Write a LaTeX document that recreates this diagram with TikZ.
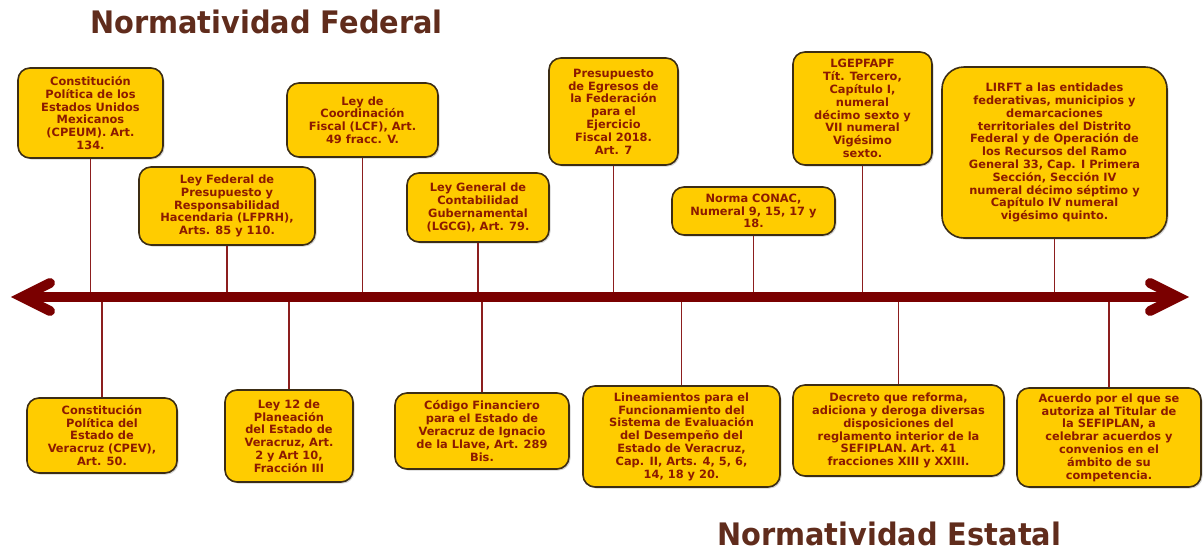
\documentclass[tikz,border=0pt]{standalone}
\usepackage{fontspec}
\newfontfamily\boxfont{DejaVu Sans}
\newfontfamily\titlefont[FakeStretch=0.93]{DejaVu Sans}
\usetikzlibrary{shadows}
\definecolor{gold}{RGB}{255,204,0}
\definecolor{boxtext}{RGB}{140,26,0}
\definecolor{axiscol}{RGB}{122,0,0}
\definecolor{titlecol}{RGB}{96,44,28}
\definecolor{boxedge}{RGB}{60,45,20}
\definecolor{conncol}{RGB}{140,30,30}
\begin{document}
\begin{tikzpicture}[x=1pt,y=-1pt,
  law/.style={draw=boxedge, line width=1.6pt, fill=gold, rounded corners=12pt, align=center,
    font=\boxfont\bfseries\fontsize{11.4}{12.8}\selectfont, text=boxtext, inner sep=0pt,
    drop shadow={shadow xshift=1.5pt, shadow yshift=-1.5pt, opacity=0.35}},
  conn/.style={draw=conncol, line width=1.4pt},
  axisline/.style={draw=axiscol, line width=10pt},
  title/.style={font=\titlefont\bfseries\fontsize{31}{36}\selectfont, text=titlecol, anchor=base west, inner sep=0pt}]
\path[use as bounding box] (0,0) rectangle (1204,552);

\node[title] (tfed) at (90,33) {Normatividad Federal};
\node[title] (test) at (717,545) {Normatividad Estatal};

% top boxes
\node[law, minimum width=145pt, minimum height=90pt] (cpeum) at (90.5,113)
  {Constitución\\Política de los\\Estados Unidos\\Mexicanos\\(CPEUM). Art.\\134.};
\node[law, minimum width=151pt, minimum height=74pt] (lcf) at (362.5,120)
  {Ley de\\Coordinación\\Fiscal (LCF), Art.\\49 fracc. V.};
\node[law, minimum width=176pt, minimum height=78pt] (lfprh) at (227,206)
  {Ley Federal de\\Presupuesto y\\Responsabilidad\\Hacendaria (LFPRH),\\Arts. 85 y 110.};
\node[law, minimum width=142pt, minimum height=69pt] (lgcg) at (478,207.5)
  {Ley General de\\Contabilidad\\Gubernamental\\(LGCG), Art. 79.};
\node[law, minimum width=129pt, minimum height=107pt] (pef) at (613.5,111.5)
  {Presupuesto\\de Egresos de\\la Federación\\para el\\Ejercicio\\Fiscal 2018.\\Art. 7};
\node[law, minimum width=163pt, minimum height=48pt] (conac) at (753.5,211)
  {Norma CONAC,\\Numeral 9, 15, 17 y\\18.};
\node[law, minimum width=139pt, minimum height=113pt] (lgep) at (862.5,108.5)
  {LGEPFAPF\\Tít. Tercero,\\Capítulo I,\\numeral\\décimo sexto y\\VII numeral\\Vigésimo\\sexto.};
\node[law, rounded corners=22pt, minimum width=225pt, minimum height=171pt] (lirft) at (1054.5,152.5)
  {LIRFT a las entidades\\federativas, municipios y\\demarcaciones\\territoriales del Distrito\\Federal y de Operación de\\los Recursos del Ramo\\General 33, Cap. I Primera\\Sección, Sección IV\\numeral décimo séptimo y\\Capítulo IV numeral\\vigésimo quinto.};

% bottom boxes
\node[law, minimum width=150pt, minimum height=75pt] (cpev) at (102,435.5)
  {Constitución\\Política del\\Estado de\\Veracruz (CPEV),\\Art. 50.};
\node[law, minimum width=128pt, minimum height=92pt] (ley12) at (289,436)
  {Ley 12 de\\Planeación\\del Estado de\\Veracruz, Art.\\2 y Art 10,\\Fracción III};
\node[law, minimum width=174pt, minimum height=76pt] (codigo) at (482,431)
  {Código Financiero\\para el Estado de\\Veracruz de Ignacio\\de la Llave, Art. 289\\Bis.};
\node[law, minimum width=197pt, minimum height=101pt] (lineam) at (681.5,436.5)
  {Lineamientos para el\\Funcionamiento del\\Sistema de Evaluación\\del Desempeño del\\Estado de Veracruz,\\Cap. II, Arts. 4, 5, 6,\\14, 18 y 20.};
\node[law, minimum width=211pt, minimum height=91pt] (decreto) at (898.5,430.5)
  {Decreto que reforma,\\adiciona y deroga diversas\\disposiciones del\\reglamento interior de la\\SEFIPLAN. Art. 41\\fracciones XIII y XXIII.};
\node[law, minimum width=184pt, minimum height=99pt] (acuerdo) at (1109,437.5)
  {Acuerdo por el que se\\autoriza al Titular de\\la SEFIPLAN, a\\celebrar acuerdos y\\convenios en el\\ámbito de su\\competencia.};

\coordinate (axis) at (0,297);
\coordinate (lefttip) at (22,297);
\coordinate (righttip) at (1178,297);

% connectors
\foreach \n in {cpeum,lcf,lfprh,lgcg,pef,conac,lgep,lirft}
  \draw[conn] (\n.south) -- (\n.south |- axis);
\foreach \n in {cpev,ley12,codigo,lineam,decreto,acuerdo}
  \draw[conn] (\n.north) -- (\n.north |- axis);

% timeline
\draw[axisline] (lefttip) -- (righttip);
\draw[axisline, line cap=round, line join=miter] (50,283) -- (lefttip) -- (50,311);
\draw[axisline, line cap=round, line join=miter] (1150,283) -- (righttip) -- (1150,311);
\end{tikzpicture}
\end{document}
